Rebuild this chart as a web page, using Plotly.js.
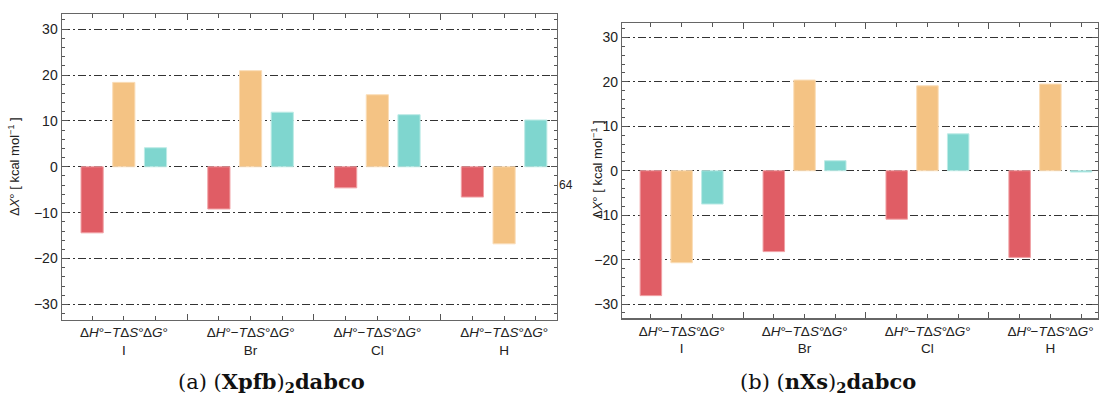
<!DOCTYPE html>
<html>
<head>
<meta charset="utf-8">
<script src="https://cdn.plot.ly/plotly-3.0.1.min.js"></script>
<style>html,body{margin:0;padding:0;background:#fff;}#chart{width:1099px;height:403px;}</style>
</head>
<body>
<div id="chart"></div>
<script>
// ---- data ----
const groups = ['I', 'Br', 'Cl', 'H'];
const quantities = ['Δ<i>H</i>°', '−<i>T</i>Δ<i>S</i>°', 'Δ<i>G</i>°'];
// panel (a) (Xpfb)2dabco
const dH_a    = [-14.4, -9.2, -4.6, -6.6];
const mTdS_a  = [18.4, 20.95, 15.7, -16.8];
const dG_a    = [4.15, 11.9, 11.35, 10.2];
// panel (b) (nXs)2dabco
const dH_b    = [-28.1, -18.2, -10.9, -19.5];
const mTdS_b  = [-20.7, 20.4, 19.1, 19.5];
const dG_b    = [-7.5, 2.25, 8.3, -0.3];
const yTicks = [-30, -20, -10, 0, 10, 20, 30];
const captionA = '(a) (<b>Xpfb</b>)<sub><b>2</b></sub><b>dabco</b>';
const captionB = '(b) (<b>nXs</b>)<sub><b>2</b></sub><b>dabco</b>';
const yTitle = 'Δ<i>X</i>° [ kcal mol<sup>−1</sup> ]';

// ---- build ----
const colors = ['#E05D65', '#F4C384', '#7FD6CF'];
const edge = ['#F0A0A4', '#FADDB8', '#BDEBE6'];
const pos = (g, q) => 4 * g + q;

function traces(series, xa, ya) {
  return series.map((vals, q) => ({
    type: 'bar',
    x: groups.map((_, g) => pos(g, q)),
    y: vals,
    width: 0.7,
    xaxis: xa, yaxis: ya,
    marker: {color: colors[q], line: {color: edge[q], width: 1}},
    showlegend: false,
    hoverinfo: 'y'
  }));
}

const data = [
  ...traces([dH_a, mTdS_a, dG_a], 'x', 'y'),
  ...traces([dH_b, mTdS_b, dG_b], 'x2', 'y2')
];

const tickvals = [], ticktext = [];
groups.forEach((gname, g) => {
  quantities.forEach((qname, q) => {
    tickvals.push(pos(g, q));
    ticktext.push(q === 1 ? qname + '<br>' + gname : qname);
  });
});
const gapvals = [3, 7, 11];

const sans = 'Liberation Sans, Arial, sans-serif';
const font = {family: sans, size: 13, color: '#222'};

function xaxis(domain, range, anchor) {
  return {
    domain: domain, range: range, anchor: anchor,
    tickmode: 'array', tickvals: tickvals, ticktext: ticktext,
    ticks: 'inside', ticklen: 4, tickcolor: '#555', tickwidth: 1,
    minor: {tickmode: 'array', tickvals: gapvals, ticks: 'inside', ticklen: 6, tickcolor: '#555', tickwidth: 1, showgrid: false},
    showline: true, linecolor: '#666', linewidth: 1.2, mirror: 'ticks',
    showgrid: false, zeroline: false,
    tickfont: {family: sans, size: 13.5, color: '#222'},
    tickangle: 0, fixedrange: true
  };
}
function yaxis(domain, range, anchor) {
  return {
    domain: domain, range: range, anchor: anchor,
    tickmode: 'array', tickvals: yTicks,
    ticktext: yTicks.map(v => v < 0 ? '−' + Math.abs(v) : String(v)),
    ticks: 'inside', ticklen: 6, tickcolor: '#555', tickwidth: 1,
    minor: {dtick: 2, tick0: 0, ticks: 'inside', ticklen: 3, tickcolor: '#555', tickwidth: 1, showgrid: false},
    showline: true, linecolor: '#666', linewidth: 1.2, mirror: 'ticks',
    showgrid: true, gridcolor: '#333', gridwidth: 1, griddash: '8px,3px,2px,3px',
    zeroline: false,
    tickfont: {family: sans, size: 14, color: '#222'},
    fixedrange: true
  };
}

const layout = {
  width: 1099, height: 403,
  margin: {l: 0, r: 0, t: 0, b: 0},
  paper_bgcolor: '#fff', plot_bgcolor: '#fff',
  font: font,
  bargap: 0,
  xaxis: xaxis([61.7 / 1099, 556.7 / 1099], [-0.96, 14.66], 'y'),
  yaxis: yaxis([1 - 320 / 403, 1 - 14 / 403], [-33.4, 33.3], 'x'),
  xaxis2: xaxis([622 / 1099, 1098 / 1099], [-0.94, 14.55], 'y2'),
  yaxis2: yaxis([1 - 318.3 / 403, 1 - 22.7 / 403], [-33.2, 33.3], 'x2'),
  annotations: [
    {text: yTitle, textangle: -90, xref: 'paper', yref: 'paper', x: 14 / 1099, y: 1 - 167 / 403,
     showarrow: false, xanchor: 'center', yanchor: 'middle', font: {family: sans, size: 13, color: '#222'}},
    {text: yTitle, textangle: -90, xref: 'paper', yref: 'paper', x: 597 / 1099, y: 1 - 170 / 403,
     showarrow: false, xanchor: 'center', yanchor: 'middle', font: {family: sans, size: 13, color: '#222'}},
    {text: '64', xref: 'paper', yref: 'paper', x: 566 / 1099, y: 1 - 185 / 403,
     showarrow: false, xanchor: 'center', yanchor: 'middle', font: {family: sans, size: 12, color: '#222'}},
    {text: captionA, xref: 'paper', yref: 'paper', x: 271 / 1099, y: 1 - 382 / 403,
     showarrow: false, xanchor: 'center', yanchor: 'middle', font: {family: 'DejaVu Serif, Liberation Serif, serif', size: 21, color: '#111'}},
    {text: captionB, xref: 'paper', yref: 'paper', x: 828 / 1099, y: 1 - 382 / 403,
     showarrow: false, xanchor: 'center', yanchor: 'middle', font: {family: 'DejaVu Serif, Liberation Serif, serif', size: 21, color: '#111'}}
  ]
};

Plotly.newPlot('chart', data, layout, {staticPlot: true, displayModeBar: false});
</script>
</body>
</html>
